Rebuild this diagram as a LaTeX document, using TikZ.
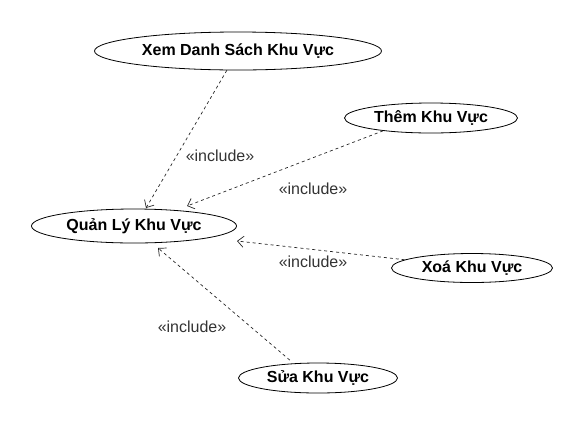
\documentclass[tikz,border=0pt]{standalone}
\usepackage{fontspec}
\setmainfont{Liberation Sans}
\usetikzlibrary{shapes.geometric,arrows.meta}
\tikzset{
  usecase/.style={draw=black, ellipse, line width=0.8pt, inner sep=0pt, fill=white,
    font=\fontsize{16}{19}\selectfont\bfseries},
  incl/.style={draw=black!85, line width=0.7pt, dash pattern=on 3pt off 3pt,
    -{Straight Barb[length=6pt,width=11pt,line width=0.7pt]}},
  lbl/.style={font=\fontsize{16}{19}\selectfont, text=black!80, inner sep=0pt}
}
\begin{document}
\begin{tikzpicture}[x=1pt,y=-1pt]
\useasboundingbox (0,0) rectangle (578,432);
\node[usecase, minimum width=287pt, minimum height=38pt] (xem) at (238,51) {Xem Danh Sách Khu Vực};
\node[usecase, minimum width=205pt, minimum height=34pt] (main) at (134,226) {Quản Lý Khu Vực};
\node[usecase, minimum width=173pt, minimum height=30pt] (them) at (431,118) {Thêm Khu Vực};
\node[usecase, minimum width=161pt, minimum height=29pt] (xoa) at (472,268) {Xoá Khu Vực};
\node[usecase, minimum width=159pt, minimum height=30pt] (sua) at (318,378) {Sửa Khu Vực};

\coordinate (e1) at (146,208);
\coordinate (e2) at (187,206);
\coordinate (e3) at (237,241);
\coordinate (e4) at (158,248);

\draw[incl] (xem.240) -- (e1);
\draw[incl] (them.-165) -- (e2);
\draw[incl] (xoa.173) -- (e3);
\draw[incl, shorten <=5pt] (sua.149) -- (e4);

\node[lbl] (l1) at (220,156) {«include»};
\node[lbl] (l2) at (313,189) {«include»};
\node[lbl] (l3) at (313,262) {«include»};
\node[lbl] (l4) at (192,327) {«include»};
\end{tikzpicture}
\end{document}
